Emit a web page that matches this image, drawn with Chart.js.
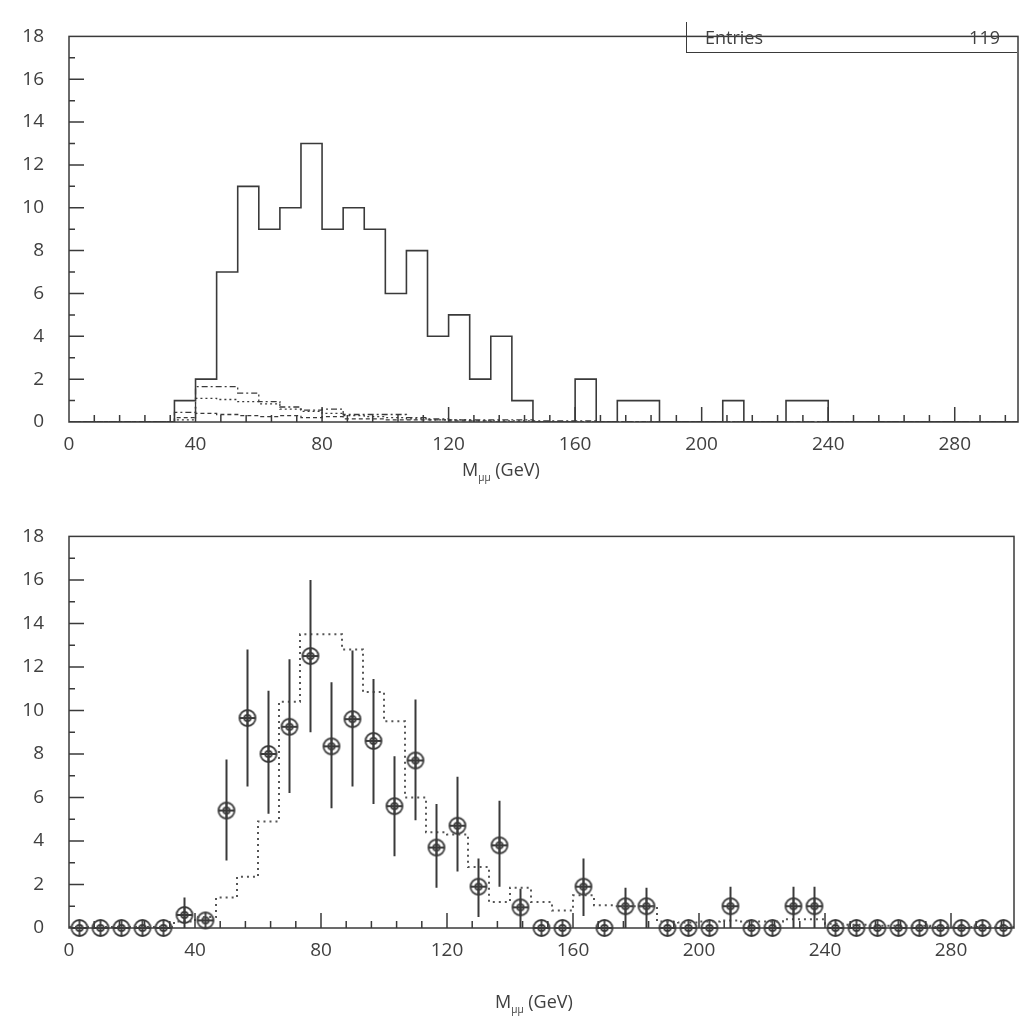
<!DOCTYPE html>
<html>
<head>
<meta charset="utf-8">
<script src="https://cdn.jsdelivr.net/npm/chart.js@4.4.1/dist/chart.umd.min.js"></script>
<style>
  body { margin: 0; background: #fff; }
  #wrap { position: relative; width: 1024px; height: 1026px; overflow: hidden; }
  canvas { position: absolute; left: 0; }
  #top { top: 0; }
  #bottom { top: 500px; }
  .axtitle { position: absolute; font: 400 18px 'Open Sans', sans-serif; color: #404040; white-space: nowrap; }
  .axtitle sub { font-size: 10px; }
  #stats { position: absolute; left: 686px; top: 22px; width: 331px; height: 31px; box-sizing: border-box;
           border-left: 1.5px solid #3a3a3a; border-bottom: 1.5px solid #3a3a3a;
           display: flex; justify-content: space-between; align-items: center; padding: 0 17px 0 18px;
           font: 400 18px 'Open Sans', sans-serif; color: #404040; }
</style>
</head>
<body>
<div id="wrap">
  <canvas id="top" width="1024" height="490"></canvas>
  <canvas id="bottom" width="1024" height="526"></canvas>
  <div id="stats"><span>Entries</span><span>119</span></div>
  <div class="axtitle" style="left:462px; top:457px;">M<sub>μμ</sub> (GeV)</div>
  <div class="axtitle" style="left:495px; top:989px;">M<sub>μμ</sub> (GeV)</div>
</div>
<script>
// binning: 45 bins from 0 to 300 GeV
const binCount = 45;
const xLo = 0, xHi = 300;
const xTickLabels = [0, 40, 80, 120, 160, 200, 240, 280];
const yTickLabels = [0, 2, 4, 6, 8, 10, 12, 14, 16, 18];

// top panel: selected events and background contributions
const selectedCounts = [0, 0, 0, 0, 0, 1, 2, 7, 11, 9, 10, 13, 9, 10, 9, 6, 8, 4, 5, 2, 4, 1, 0, 0, 2,
  0, 1, 1, 0, 0, 0, 1, 0, 0, 1, 1, 0, 0, 0, 0, 0, 0, 0, 0, 0];
const bgDashDot = [0, 0, 0, 0, 0, 0.45, 1.65, 1.65, 1.35, 0.95, 0.7, 0.55, 0.6, 0.35, 0.35, 0.35, 0.2, 0.15, 0.1, 0.1,
  0.1, 0.1, 0.05, 0.05, 0.05, 0, 0, 0, 0, 0, 0, 0, 0, 0, 0, 0, 0, 0, 0, 0, 0, 0, 0, 0, 0];
const bgDotted = [0, 0, 0, 0, 0, 0.1, 1.1, 1.05, 0.95, 0.85, 0.6, 0.5, 0.4, 0.3, 0.25, 0.2, 0.15, 0.1, 0.1, 0.05,
  0.05, 0.05, 0, 0, 0, 0, 0, 0, 0, 0, 0, 0, 0, 0, 0, 0, 0, 0, 0, 0, 0, 0, 0, 0, 0];
const bgDashed = [0, 0, 0, 0, 0, 0.2, 0.4, 0.35, 0.3, 0.25, 0.3, 0.2, 0.25, 0.15, 0.15, 0.1, 0.1, 0.1, 0.05, 0.05,
  0, 0, 0, 0, 0, 0, 0, 0, 0, 0, 0, 0, 0, 0, 0, 0, 0, 0, 0, 0, 0, 0, 0, 0, 0];

// bottom panel: data points with errors and the expectation
const dataValues = [0, 0, 0, 0, 0, 0.6, 0.35, 5.4, 9.65, 8.0, 9.25, 12.5, 8.35, 9.6, 8.6, 5.6, 7.7, 3.7, 4.7, 1.9,
  3.8, 0.95, 0, 0, 1.9, 0, 1.0, 1.0, 0, 0, 0, 1.0, 0, 0, 1.0, 1.0, 0, 0, 0, 0, 0, 0, 0, 0, 0];
const errTop = [0, 0, 0, 0, 0, 1.4, 0.35, 7.75, 12.8, 10.9, 12.35, 16.0, 11.3, 12.75, 11.45, 7.9, 10.5, 5.7, 6.95, 3.2,
  5.85, 1.8, 0, 0, 3.2, 0, 1.85, 1.85, 0, 0, 0, 1.9, 0, 0, 1.9, 1.9, 0, 0, 0, 0, 0, 0, 0, 0, 0];
const errBottom = [0, 0, 0, 0, 0, 0, 0.35, 3.1, 6.5, 5.25, 6.2, 9.0, 5.5, 6.5, 5.7, 3.3, 4.95, 1.85, 2.6, 0.5,
  1.9, 0, 0, 0, 0.55, 0, 0, 0, 0, 0, 0, 0, 0, 0, 0, 0, 0, 0, 0, 0, 0, 0, 0, 0, 0];
const expected = [0.05, 0.05, 0.05, 0.05, 0.05, 0.3, 0.5, 1.4, 2.35, 4.9, 10.4, 13.5, 13.5, 12.8, 10.85, 9.5, 6.0, 4.4, 4.3, 2.8,
  1.2, 1.85, 1.2, 0.8, 1.5, 1.05, 1.0, 1.0, 0.3, 0.25, 0.3, 0.35, 0.3, 0.3, 0.4, 0.4, 0.2, 0.15, 0.1, 0.1,
  0.1, 0.05, 0.05, 0.05, 0.05];

const ink = '#3a3a3a';
const binW = (xHi - xLo) / binCount;

// histogram outline: one point per left edge + closing edge, drawn stepped
function stepPoints(vals) {
  const pts = vals.map((v, i) => ({ x: xLo + i * binW, y: v }));
  pts.push({ x: xHi, y: vals[vals.length - 1] });
  return pts;
}
function centerPoints(vals) {
  return vals.map((v, i) => ({ x: xLo + (i + 0.5) * binW, y: v }));
}

// circle-with-cross marker
function makeMarker() {
  const c = document.createElement('canvas');
  c.width = 22; c.height = 22;
  const g = c.getContext('2d');
  g.strokeStyle = ink;
  g.lineWidth = 1.8;
  g.beginPath(); g.arc(11, 11, 8, 0, Math.PI * 2); g.stroke();
  g.beginPath(); g.arc(11, 11, 3.2, 0, Math.PI * 2); g.stroke();
  g.beginPath();
  g.moveTo(11, 3); g.lineTo(11, 19);
  g.moveTo(3, 11); g.lineTo(19, 11);
  g.stroke();
  return c;
}

// frame + inward ticks (minor every 8 GeV / 1 unit)
const frameTicks = {
  id: 'frameTicks',
  afterDraw(chart) {
    const { ctx, chartArea: a, scales: { x, y } } = chart;
    ctx.save();
    ctx.strokeStyle = ink;
    ctx.lineWidth = 1.5;
    ctx.strokeRect(a.left, a.top, a.right - a.left, a.bottom - a.top);
    ctx.beginPath();
    for (let v = 8; v < xHi; v += 8) {
      const px = x.getPixelForValue(v);
      const len = v % 40 === 0 ? 15 : 7;
      ctx.moveTo(px, a.bottom);
      ctx.lineTo(px, a.bottom - len);
    }
    for (let v = 1; v < 18; v++) {
      const py = y.getPixelForValue(v);
      const len = v % 2 === 0 ? 15 : 6;
      ctx.moveTo(a.left, py);
      ctx.lineTo(a.left + len, py);
    }
    ctx.stroke();
    ctx.restore();
  }
};

const errorBars = {
  id: 'errorBars',
  afterDatasetsDraw(chart) {
    const { ctx, scales: { x, y } } = chart;
    ctx.save();
    ctx.strokeStyle = ink;
    ctx.lineWidth = 2;
    ctx.beginPath();
    dataValues.forEach((v, i) => {
      if (errTop[i] <= errBottom[i]) return;
      const px = x.getPixelForValue(xLo + (i + 0.5) * binW);
      ctx.moveTo(px, y.getPixelForValue(errBottom[i]));
      ctx.lineTo(px, y.getPixelForValue(errTop[i]));
    });
    ctx.stroke();
    ctx.restore();
  }
};

Chart.defaults.font.family = "'Open Sans', sans-serif";
Chart.defaults.font.size = 19;
Chart.defaults.font.weight = '400';
Chart.defaults.color = '#404040';

function scales(xHeight) {
  return {
    x: {
      type: 'linear', min: xLo, max: xHi,
      afterBuildTicks: s => { s.ticks = xTickLabels.map(v => ({ value: v })); },
      afterFit: s => { s.height = xHeight; },
      grid: { display: false },
      border: { display: false },
      ticks: { padding: 3, maxRotation: 0, autoSkip: false }
    },
    y: {
      min: 0, max: 18,
      afterBuildTicks: s => { s.ticks = yTickLabels.map(v => ({ value: v })); },
      afterFit: s => { s.width = 69; },
      grid: { display: false, drawTicks: false },
      border: { display: false },
      ticks: { padding: 25 }
    }
  };
}

const baseOpts = {
  responsive: false,
  animation: false,
  events: [],
  plugins: { legend: { display: false }, tooltip: { enabled: false } },
  elements: { point: { radius: 0 }, line: { tension: 0, borderColor: ink } }
};

function histLine(vals, dash, width) {
  return {
    data: stepPoints(vals), stepped: 'before', borderColor: ink, borderWidth: width,
    borderDash: dash, pointRadius: 0, fill: false
  };
}

new Chart(document.getElementById('top'), {
  type: 'line',
  data: {
    datasets: [
      histLine(bgDashed, [4, 3], 1.3),
      histLine(bgDotted, [2, 3], 1.3),
      histLine(bgDashDot, [6, 3, 2, 3], 1.3),
      histLine(selectedCounts, [], 1.6)
    ]
  },
  options: {
    ...baseOpts,
    layout: { padding: { top: 20, right: 6, left: 0, bottom: 0 } },
    scales: scales(68)
  },
  plugins: [frameTicks]
});

new Chart(document.getElementById('bottom'), {
  type: 'line',
  data: {
    datasets: [
      Object.assign(histLine(expected, [2, 4], 2), { borderColor: '#555' }),
      {
        data: centerPoints(dataValues), showLine: false, clip: false,
        pointStyle: makeMarker(), pointRadius: 9
      }
    ]
  },
  options: {
    ...baseOpts,
    layout: { padding: { top: 32, right: 6, left: 0, bottom: 58 } },
    scales: scales(40)
  },
  plugins: [frameTicks, errorBars]
});
</script>
</body>
</html>
